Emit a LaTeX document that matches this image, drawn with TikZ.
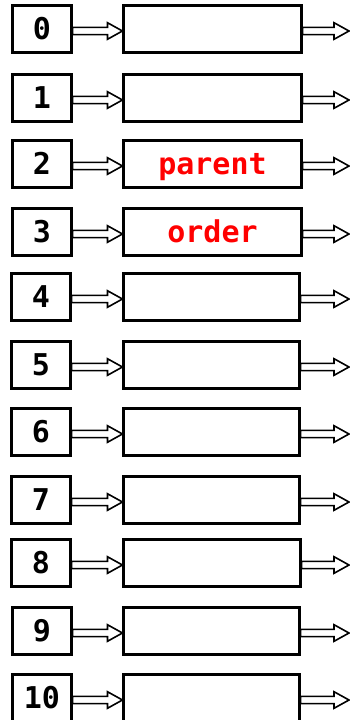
\documentclass[tikz,border=0pt]{standalone}
\usepackage{fontspec}
\setmonofont{DejaVu Sans Mono}
\usetikzlibrary{calc}
\begin{document}
\begin{tikzpicture}[x=1pt,y=-1pt,
  idxbox/.style={draw=black,line width=2.1pt,fill=white,minimum width=59pt,minimum height=47pt,inner sep=0pt,text height=21pt,text depth=0pt,font=\ttfamily\bfseries\fontsize{30}{30}\selectfont,text=black},
  cellbox/.style={draw=black,line width=2.1pt,fill=white,minimum width=177pt,minimum height=47pt,inner sep=0pt,text height=21pt,text depth=0pt,font=\ttfamily\bfseries\fontsize{30}{30}\selectfont,text=red},
  fat/.style={draw=black,line width=1.6pt,fill=white,line join=miter}]
\useasboundingbox (0,0) rectangle (349,720);
\newcommand\fatarrow[2]{%
  \draw[fat] let \p1=(#1), \p2=(#2) in
    (\x1,\y1-5.6pt) -- (\x2-15pt,\y1-5.6pt) -- (\x2-15pt,\y1-10.3pt) -- (\x2,\y1-2pt)
    -- (\x2-15pt,\y1+6.3pt) -- (\x2-15pt,\y1+1.6pt) -- (\x1,\y1+1.6pt) -- cycle;}
\foreach \i/\t/\lab/\txt/\bx/\bw in {0/5/0//12/302,1/74/1//12/302,2/140/2/parent/12/302,3/208/3/order/12/302,4/273/4//11/300,5/341/5//11/300,6/408/6//11/300,7/476/7//11/300,8/539/8//11/301,9/607/9//12/300,10/674/10//12/300}{
  \node[idxbox] (n\i) at (\bx+30,\t+24) {\lab};
  \node[cellbox,minimum width=\bw-123-1] (c\i) at ({(\bw+123)/2},\t+24) {\txt};
  \coordinate (e\i) at (349,\t+24);
  \fatarrow{n\i.east}{c\i.west}
  \fatarrow{c\i.east}{e\i}
}
\end{tikzpicture}
\end{document}
